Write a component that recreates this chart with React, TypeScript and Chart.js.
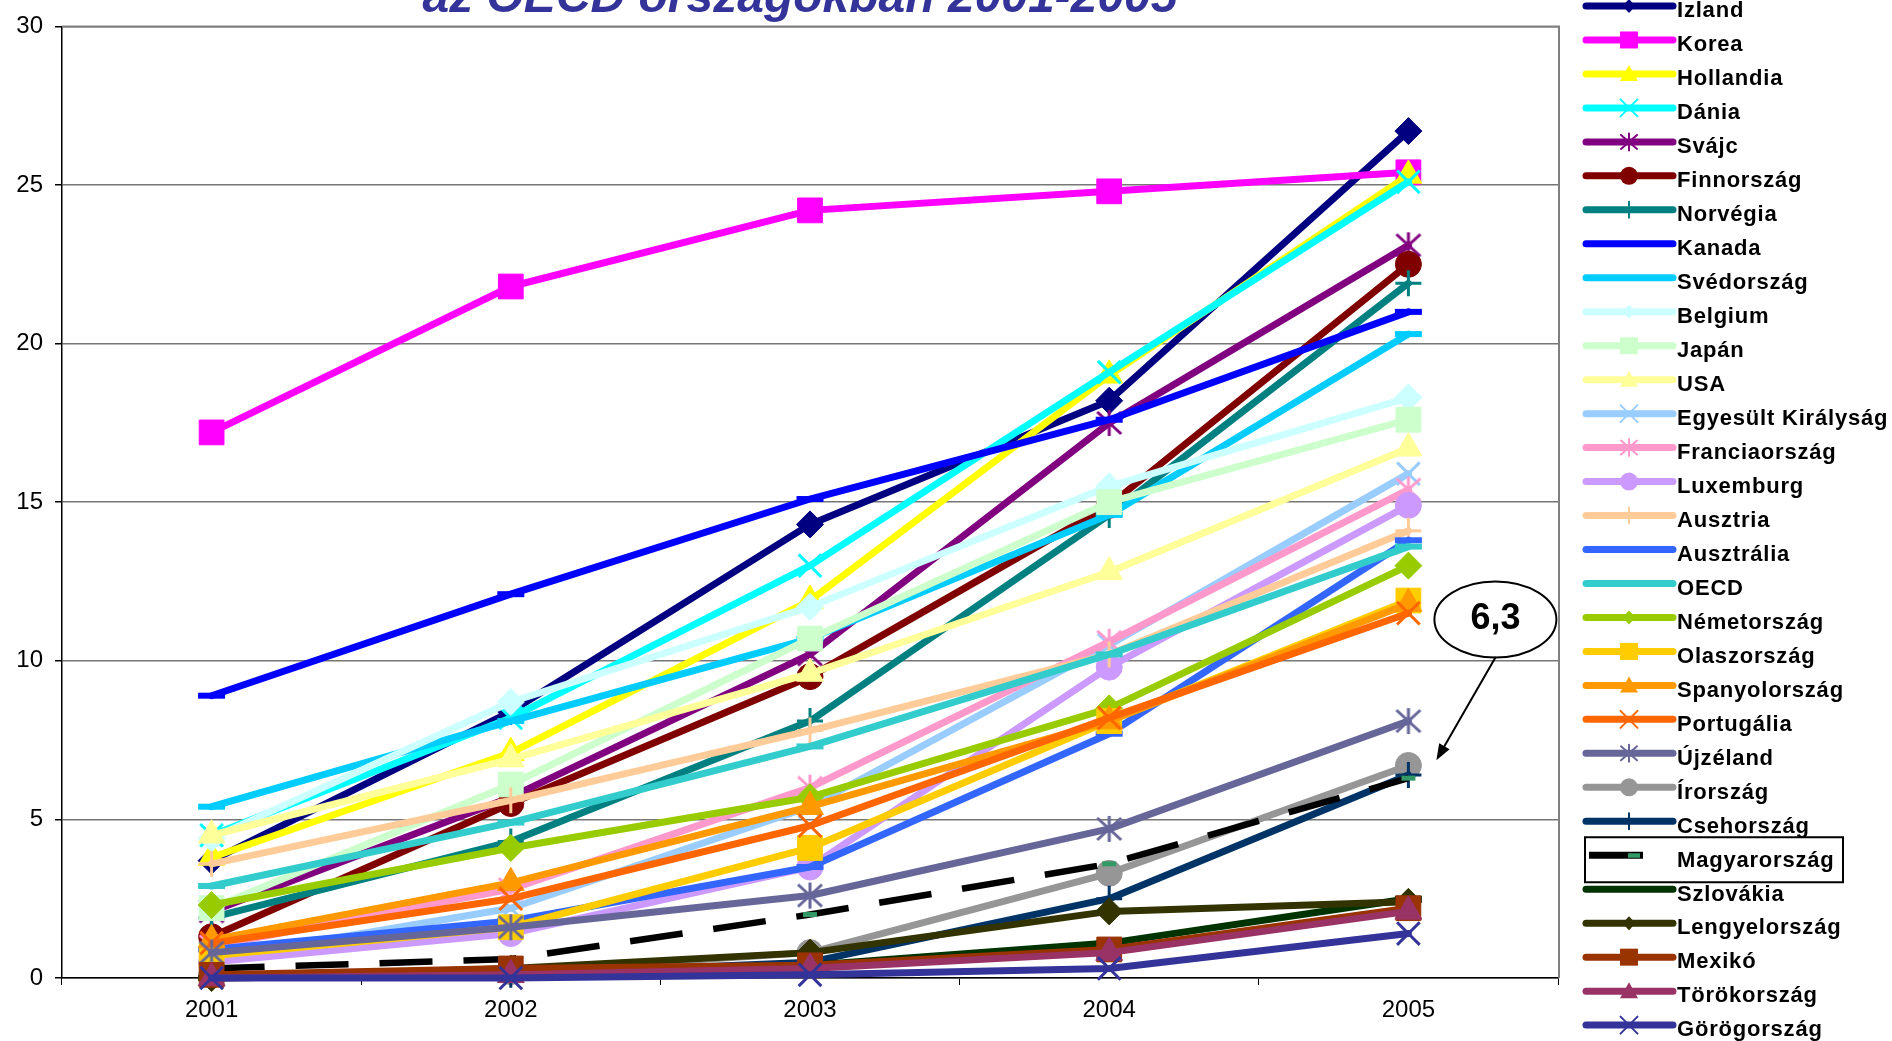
import React, { useEffect, useRef } from 'react';
import { Chart, registerables } from 'chart.js';

Chart.register(...registerables);

// ---------- DATA ----------
const years = ['2001', '2002', '2003', '2004', '2005'];
const yMin = 0;
const yMax = 30;
const yStep = 5;
const titleText = 'az OECD országokban 2001-2005';
const calloutText = '6,3';
const calloutValue = 6.3;

const izland = [3.7, 8.4, 14.3, 18.2, 26.7];
const korea = [17.2, 21.8, 24.2, 24.8, 25.4];
const hollandia = [3.8, 7.1, 11.9, 19.0, 25.3];
const dania = [4.5, 8.2, 13.0, 19.1, 25.1];
const svajc = [2.1, 5.7, 10.2, 17.5, 23.1];
const finnorszag = [1.3, 5.5, 9.5, 14.9, 22.5];
const norvegia = [1.9, 4.3, 8.1, 14.6, 21.9];
const kanada = [8.9, 12.1, 15.1, 17.6, 21.0];
const svedorszag = [5.4, 8.1, 10.7, 14.6, 20.3];
const belgium = [4.4, 8.7, 11.7, 15.5, 18.3];
const japan = [2.2, 6.1, 10.7, 15.0, 17.6];
const usa = [4.5, 6.9, 9.6, 12.8, 16.7];
const egyesultKiralysag = [0.6, 2.2, 5.4, 10.5, 15.9];
const franciaorszag = [1.0, 2.8, 6.0, 10.6, 15.4];
const luxemburg = [0.5, 1.4, 3.5, 9.8, 14.9];
const ausztria = [3.6, 5.6, 7.8, 10.2, 14.1];
const ausztralia = [0.9, 1.8, 3.5, 7.7, 13.8];
const oecd = [2.9, 4.9, 7.3, 10.2, 13.6];
const nemetorszag = [2.3, 4.1, 5.7, 8.5, 13.0];
const olaszorszag = [0.7, 1.6, 4.1, 8.1, 11.9];
const spanyolorszag = [1.2, 3.0, 5.4, 8.1, 11.8];
const portugalia = [1.1, 2.5, 4.8, 8.2, 11.5];
const ujzeland = [0.8, 1.6, 2.6, 4.7, 8.1];
const irorszag = [0.1, 0.2, 0.8, 3.3, 6.7];
const csehorszag = [0.05, 0.1, 0.5, 2.5, 6.4];
const magyarorszag = [0.3, 0.6, 2.0, 3.6, 6.3];
const szlovakia = [0.0, 0.1, 0.4, 1.1, 2.5];
const lengyelorszag = [0.0, 0.3, 0.8, 2.1, 2.4];
const mexiko = [0.1, 0.3, 0.4, 0.9, 2.2];
const torokorszag = [0.0, 0.1, 0.3, 0.8, 2.1];
const gorogorszag = [0.0, 0.0, 0.1, 0.3, 1.4];

const seriesNames = [
  'Izland', 'Korea', 'Hollandia', 'Dánia', 'Svájc', 'Finnország', 'Norvégia', 'Kanada',
  'Svédország', 'Belgium', 'Japán', 'USA', 'Egyesült Királyság', 'Franciaország', 'Luxemburg',
  'Ausztria', 'Ausztrália', 'OECD', 'Németország', 'Olaszország', 'Spanyolország', 'Portugália',
  'Újzéland', 'Írország', 'Csehország', 'Magyarország', 'Szlovákia', 'Lengyelország', 'Mexikó',
  'Törökország', 'Görögország',
];
const seriesValues = [
  izland, korea, hollandia, dania, svajc, finnorszag, norvegia, kanada,
  svedorszag, belgium, japan, usa, egyesultKiralysag, franciaorszag, luxemburg,
  ausztria, ausztralia, oecd, nemetorszag, olaszorszag, spanyolorszag, portugalia,
  ujzeland, irorszag, csehorszag, magyarorszag, szlovakia, lengyelorszag, mexiko,
  torokorszag, gorogorszag,
];
const seriesColors = [
  '#000080', '#FF00FF', '#FFFF00', '#00FFFF', '#800080', '#800000', '#008080', '#0000FF',
  '#00CCFF', '#CCFFFF', '#CCFFCC', '#FFFF99', '#99CCFF', '#FF99CC', '#CC99FF',
  '#FFCC99', '#3366FF', '#33CCCC', '#99CC00', '#FFCC00', '#FF9900', '#FF6600',
  '#666699', '#969696', '#003366', '#000000', '#003300', '#333300', '#993300',
  '#993366', '#333399',
];
const seriesMarkers = [
  'diamond', 'square', 'triangle', 'x', 'star', 'circle', 'plus', 'dash',
  'dash', 'diamond', 'square', 'triangle', 'x', 'star', 'circle',
  'plus', 'dash', 'dash', 'diamond', 'square', 'triangle', 'x',
  'star', 'circle', 'plus', 'hudash', 'dash', 'diamond', 'square',
  'triangle', 'x',
];
const highlightedSeries = 'Magyarország';
const highlightMarkerColor = '#339966';

const FONT = '"Liberation Sans", Arial, Helvetica, sans-serif';

function makeStarCanvas(color: string) {
  const c = document.createElement('canvas');
  c.width = 30;
  c.height = 30;
  const g = c.getContext('2d')!;
  g.strokeStyle = color;
  g.lineWidth = 3;
  g.lineCap = 'butt';
  g.beginPath();
  g.moveTo(15 - 12, 15 - 11); g.lineTo(15 + 12, 15 + 11);
  g.moveTo(15 - 12, 15 + 11); g.lineTo(15 + 12, 15 - 11);
  g.moveTo(15, 2); g.lineTo(15, 28);
  g.stroke();
  return c;
}

function pointProps(marker: string, color: string) {
  switch (marker) {
    case 'diamond': return { pointStyle: 'rectRot', pointRadius: 13.5, pointBorderWidth: 1, pointBackgroundColor: color, pointBorderColor: color };
    case 'square': return { pointStyle: 'rect', pointRadius: 17.5, pointBorderWidth: 1, pointBackgroundColor: color, pointBorderColor: color };
    case 'triangle': return { pointStyle: 'triangle', pointRadius: 15.5, pointBorderWidth: 1, pointBackgroundColor: color, pointBorderColor: color };
    case 'x': return { pointStyle: 'crossRot', pointRadius: 16, pointBorderWidth: 3, pointBackgroundColor: color, pointBorderColor: color };
    case 'star': return { pointStyle: makeStarCanvas(color), pointRadius: 13, pointBorderWidth: 0, pointBackgroundColor: color, pointBorderColor: color };
    case 'circle': return { pointStyle: 'circle', pointRadius: 13, pointBorderWidth: 1, pointBackgroundColor: color, pointBorderColor: color };
    case 'plus': return { pointStyle: 'cross', pointRadius: 13, pointBorderWidth: 3, pointBackgroundColor: color, pointBorderColor: color };
    case 'hudash': return { pointStyle: 'line', pointRadius: 7, pointBorderWidth: 5, pointBackgroundColor: highlightMarkerColor, pointBorderColor: highlightMarkerColor };
    default: return { pointStyle: 'line', pointRadius: 13.5, pointBorderWidth: 6, pointBackgroundColor: color, pointBorderColor: color };
  }
}

function drawLegendMarker(ctx: CanvasRenderingContext2D, kind: string, x: number, y: number, color: string) {
  ctx.save();
  ctx.fillStyle = color;
  ctx.strokeStyle = color;
  ctx.beginPath();
  switch (kind) {
    case 'diamond':
      ctx.moveTo(x, y - 7); ctx.lineTo(x + 6.5, y); ctx.lineTo(x, y + 7); ctx.lineTo(x - 6.5, y); ctx.closePath(); ctx.fill();
      break;
    case 'square':
      ctx.fillRect(x - 9, y - 8.5, 18, 17);
      break;
    case 'triangle':
      ctx.moveTo(x, y - 9); ctx.lineTo(x + 9, y + 7); ctx.lineTo(x - 9, y + 7); ctx.closePath(); ctx.fill();
      break;
    case 'x':
      ctx.lineWidth = 2;
      ctx.moveTo(x - 8.5, y - 8.5); ctx.lineTo(x + 8.5, y + 8.5);
      ctx.moveTo(x - 8.5, y + 8.5); ctx.lineTo(x + 8.5, y - 8.5);
      ctx.stroke();
      break;
    case 'star':
      ctx.lineWidth = 2;
      ctx.moveTo(x - 8, y - 7); ctx.lineTo(x + 8, y + 7);
      ctx.moveTo(x - 8, y + 7); ctx.lineTo(x + 8, y - 7);
      ctx.moveTo(x, y - 8.5); ctx.lineTo(x, y + 8.5);
      ctx.stroke();
      break;
    case 'circle':
      ctx.arc(x, y, 9, 0, Math.PI * 2); ctx.fill();
      break;
    case 'plus':
      ctx.lineWidth = 2;
      ctx.moveTo(x, y - 8); ctx.lineTo(x, y + 8);
      ctx.moveTo(x - 8, y); ctx.lineTo(x + 8, y);
      ctx.stroke();
      break;
    default:
      break;
  }
  ctx.restore();
}

const decorPlugin = {
  id: 'decor',
  afterDraw(chart: any) {
    const { ctx, chartArea, scales } = chart;
    ctx.save();

    // plot area top / right border
    ctx.strokeStyle = '#808080';
    ctx.lineWidth = 2;
    ctx.beginPath();
    ctx.moveTo(chartArea.left, chartArea.top);
    ctx.lineTo(chartArea.right + 1, chartArea.top);
    ctx.lineTo(chartArea.right + 1, chartArea.bottom);
    ctx.stroke();

    // Title (partially cut by top edge)
    ctx.font = `italic bold 48px ${FONT}`;
    ctx.fillStyle = '#333399';
    ctx.textAlign = 'center';
    ctx.textBaseline = 'alphabetic';
    ctx.fillText(titleText, 800, 12);

    // Legend
    const lx0 = 1586, lx1 = 1673, lmid = 1629, tx = 1677;
    const rowTop = 6, rowStep = 33.97;
    ctx.textAlign = 'left';
    ctx.font = `bold 22px ${FONT}`;
    (ctx as any).letterSpacing = '0.8px';
    seriesNames.forEach((name, i) => {
      const y = rowTop + i * rowStep;
      const color = seriesColors[i];
      if (name === highlightedSeries) {
        ctx.lineCap = 'butt';
        ctx.lineWidth = 7;
        ctx.strokeStyle = color;
        ctx.beginPath(); ctx.moveTo(1589, y); ctx.lineTo(1643, y); ctx.stroke();
        ctx.fillStyle = highlightMarkerColor;
        ctx.fillRect(1628, y - 2, 12, 4.5);
        ctx.strokeStyle = '#000';
        ctx.lineWidth = 2;
        ctx.strokeRect(1585, y - 18, 258, 45);
      } else {
        ctx.lineCap = 'round';
        ctx.lineWidth = 7;
        ctx.strokeStyle = color;
        ctx.beginPath(); ctx.moveTo(lx0, y); ctx.lineTo(lx1, y); ctx.stroke();
        drawLegendMarker(ctx, seriesMarkers[i], lmid, y, color);
      }
      ctx.fillStyle = '#000';
      ctx.fillText(name, tx, y + 11.3);
    });
    (ctx as any).letterSpacing = '0px';

    // Callout "6,3"
    const xs = scales.x, ys = scales.y;
    const xLast = xs.getPixelForValue(years.length - 1);
    const cx = xLast + 87;
    const cy = ys.getPixelForValue(calloutValue + 5);
    const rx = 61, ry = 38;
    ctx.fillStyle = '#fff';
    ctx.strokeStyle = '#000';
    ctx.lineWidth = 2;
    ctx.beginPath();
    ctx.ellipse(cx, cy, rx, ry, 0, 0, Math.PI * 2);
    ctx.fill();
    ctx.stroke();
    ctx.fillStyle = '#000';
    ctx.font = `bold 36px ${FONT}`;
    ctx.textAlign = 'center';
    ctx.fillText(calloutText, cx, cy + 9);

    const ax0 = cx, ay0 = cy + ry;
    const ax1 = xLast + 28, ay1 = ys.getPixelForValue(calloutValue) - 18;
    const ang = Math.atan2(ay1 - ay0, ax1 - ax0);
    const hl = 16, hw = 6;
    ctx.lineWidth = 2;
    ctx.beginPath();
    ctx.moveTo(ax0, ay0);
    ctx.lineTo(ax1 - Math.cos(ang) * hl, ay1 - Math.sin(ang) * hl);
    ctx.stroke();
    ctx.beginPath();
    ctx.moveTo(ax1, ay1);
    ctx.lineTo(ax1 - Math.cos(ang) * hl - Math.sin(ang) * hw, ay1 - Math.sin(ang) * hl + Math.cos(ang) * hw);
    ctx.lineTo(ax1 - Math.cos(ang) * hl + Math.sin(ang) * hw, ay1 - Math.sin(ang) * hl - Math.cos(ang) * hw);
    ctx.closePath();
    ctx.fill();

    ctx.restore();
  },
};

export default function App() {
  const canvasRef = useRef<HTMLCanvasElement | null>(null);

  useEffect(() => {
    const canvas = canvasRef.current;
    if (!canvas) return;
    const N = seriesNames.length;
    const datasets = seriesNames.map((name, i) => {
      const color = seriesColors[i];
      const isHu = name === highlightedSeries;
      return {
        label: name,
        data: seriesValues[i],
        borderColor: color,
        backgroundColor: color,
        borderWidth: isHu ? 6.5 : 7,
        borderDash: isHu ? [53, 31] : [],
        borderCapStyle: isHu ? 'butt' : 'round',
        borderJoinStyle: 'round',
        tension: 0,
        fill: false,
        clip: false,
        order: N - i,
        ...pointProps(seriesMarkers[i], color),
      } as any;
    });

    const chart = new Chart(canvas, {
      type: 'line',
      data: { labels: years, datasets },
      options: {
        responsive: false,
        animation: false,
        devicePixelRatio: 1,
        layout: { padding: { left: 0, right: 334, top: 23, bottom: 0 } },
        plugins: {
          legend: { display: false },
          tooltip: { enabled: false },
          title: { display: false },
        },
        scales: {
          x: {
            type: 'category',
            offset: true,
            grid: { drawOnChartArea: false, drawTicks: true, tickLength: 7, color: '#000', offset: true },
            border: { color: '#000', width: 1.5 },
            ticks: { color: '#000', font: { family: FONT, size: 24 }, padding: 11, maxRotation: 0, autoSkip: false },
            afterFit: (s: any) => { s.height = 63; },
          },
          y: {
            min: yMin,
            max: yMax,
            ticks: { stepSize: yStep, color: '#000', font: { family: FONT, size: 24 }, padding: 12 },
            grid: { color: '#777777', lineWidth: 1.5, tickLength: 7, tickColor: '#000' },
            border: { color: '#000', width: 1.5 },
            afterFit: (s: any) => { s.width = 62; },
          },
        },
      } as any,
      plugins: [decorPlugin as any],
    });
    return () => chart.destroy();
  }, []);

  return (
    <div style={{ position: 'absolute', left: 0, top: 0, width: 1892, height: 1041, background: '#fff' }}>
      <canvas ref={canvasRef} width={1892} height={1041} style={{ display: 'block' }} />
    </div>
  );
}
